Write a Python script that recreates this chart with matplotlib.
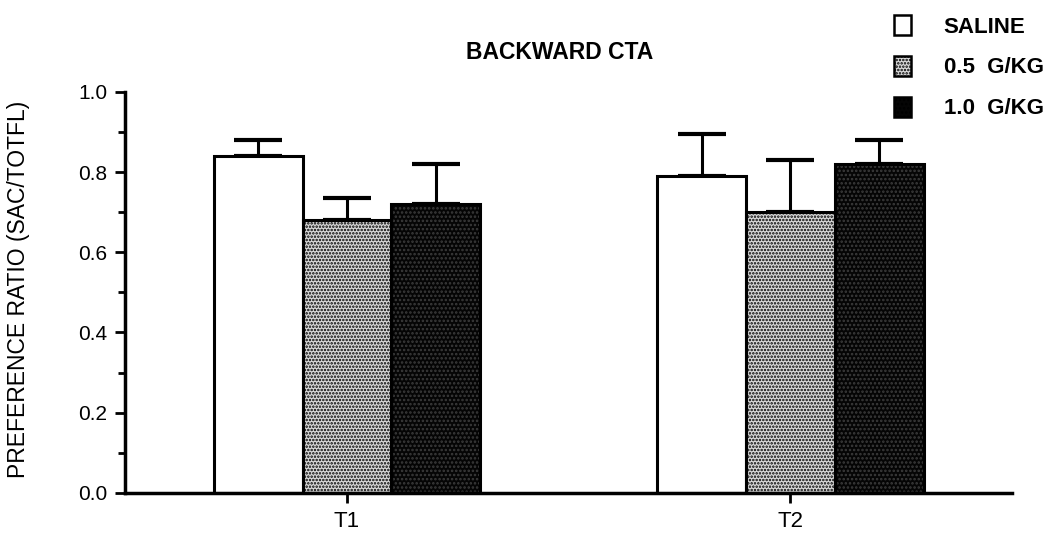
import numpy as np
import matplotlib
matplotlib.use("Agg")
import matplotlib.pyplot as plt
from matplotlib.patches import Patch

# data
trials = ["T1", "T2"]
groups = ["SALINE", "0.5  G/KG", "1.0  G/KG"]
saline = [0.84, 0.79]
dose_05 = [0.68, 0.70]
dose_10 = [0.72, 0.82]
saline_err = [0.04, 0.105]
dose_05_err = [0.055, 0.13]
dose_10_err = [0.10, 0.06]

plt.rcParams['font.family'] = ['Liberation Sans', 'DejaVu Sans']
plt.rcParams['hatch.linewidth'] = 1.2

fig = plt.figure(figsize=(10.6, 5.38), dpi=100)
ax = fig.add_axes([0.118, 0.084, 0.837, 0.745])

x = np.arange(len(trials))
w = 0.2
styles = [
    dict(facecolor='white', edgecolor='black', hatch=None),
    dict(facecolor='#d8d8d8', edgecolor='black', hatch='.....'),
    dict(facecolor='#050505', edgecolor='#3c3c3c', hatch='....'),
]
series = [saline, dose_05, dose_10]
errs = [saline_err, dose_05_err, dose_10_err]

for i, (vals, err, st) in enumerate(zip(series, errs, styles)):
    pos = x + (i - 1) * w
    ax.bar(pos, vals, w, color=st['facecolor'], edgecolor=st['edgecolor'],
           hatch=st['hatch'], linewidth=0, zorder=2)
    ax.bar(pos, vals, w, fill=False, edgecolor='black', linewidth=2.2, zorder=3)
    ax.errorbar(pos, vals, yerr=[np.zeros(len(vals)), err], fmt='none',
                ecolor='black', elinewidth=2.2, capsize=17, capthick=3, zorder=1)

ax.set_xlim(-0.5, 1.5)
ax.set_ylim(0, 1.0)
ax.set_xticks(x)
ax.set_xticklabels(trials, fontsize=16)
ax.set_yticks(np.arange(0, 1.01, 0.2))
ax.set_yticklabels(["%.1f" % v for v in np.arange(0, 1.01, 0.2)], fontsize=15)
ax.set_yticks(np.arange(0.1, 1.0, 0.2), minor=True)
ax.tick_params(axis='y', which='major', length=7, width=2, direction='out', pad=6)
ax.tick_params(axis='y', which='minor', length=5, width=2, direction='out')
ax.tick_params(axis='x', length=7, width=2, direction='out', pad=6)

for s in ['top', 'right']:
    ax.spines[s].set_visible(False)
ax.spines['left'].set_linewidth(2.5)
ax.spines['bottom'].set_linewidth(2.5)

fig.text(0.017, 0.462, "PREFERENCE RATIO (SAC/TOTFL)", rotation=90,
         ha='center', va='center', fontsize=16.5)
fig.text(0.528, 0.902, "BACKWARD CTA", ha='center', va='center',
         fontsize=16.5, fontweight='bold')

handles = [Patch(facecolor=st['facecolor'], edgecolor='black',
                 hatch=st['hatch'], linewidth=1.8) for st in styles]
leg = fig.legend(handles, groups, loc='upper left', bbox_to_anchor=(0.843, 0.972),
                 frameon=False, borderpad=0, borderaxespad=0,
                 prop={'size': 16, 'weight': 'bold'}, handlelength=0.8,
                 handleheight=1.0, labelspacing=0.82, handletextpad=1.45)

fig.savefig("out.png", dpi=100)
